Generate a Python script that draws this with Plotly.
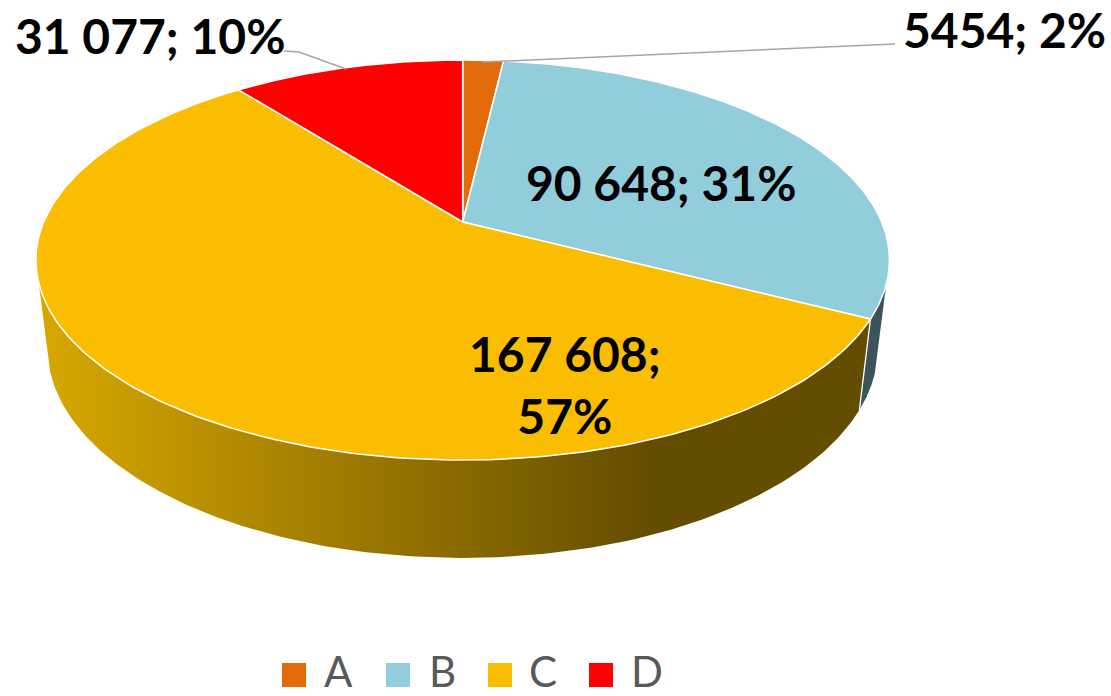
import numpy as np
import plotly.graph_objects as go

categories = ["A", "B", "C", "D"]
values = [5454, 90648, 167608, 31077]
colors = ["#E36C0A", "#92CDDC", "#FBBD00", "#FF0000"]
labels = ["5454; 2%", "90 648; 31%", "167 608;<br>57%", "31 077; 10%"]
label_pos = [(1004, 29), (661, 182), (565, 384), (150, 35)]
legend_marker_x = [294, 398, 500, 601]
legend_text_x = [338.5, 442, 543, 647]
LEGEND_MARKER_Y = 675
LEGEND_TEXT_Y = 670.5

# perspective view of the pie disc
CX, CY = 462.7, 222.0
K, P, M = 192.8, 0.19, 419.0
BOT_SX, BOT_SY, BOT_Y0 = 0.973, 1.05, 308.0
WALL_LEFT = 252.6
WALL_RIGHT = 107.9


def top_rim(deg):
    t = np.radians(deg)
    u, v = np.sin(t), np.cos(t)
    d = 1 + P * v
    return CX + M * u / d, CY - K * v / d


def bottom_rim(deg):
    x, y = top_rim(deg)
    return CX + BOT_SX * (x - CX), BOT_Y0 + BOT_SY * (y - CY)


total = sum(values)
edges = np.concatenate([[0], np.cumsum(values) / total * 360])
fig = go.Figure()


def wall(a, b, **kw):
    d = np.linspace(a, b, 160)
    xt, yt = top_rim(d)
    xb, yb = bottom_rim(d[::-1])
    fig.add_trace(go.Scatter(x=np.r_[xt, xb], y=np.r_[yt, yb], mode="lines", fill="toself",
                             line=dict(width=0), hoverinfo="skip", showlegend=False, **kw))


wall(WALL_RIGHT, edges[2], fillcolor="#3D535C")
wall(edges[2], WALL_LEFT, fillcolor="#B8860B",
     fillgradient=dict(type="horizontal",
                       colorscale=[[0, "#D8A800"], [0.73, "#654D00"], [1, "#654D00"]]))

# divider between the two visible walls
dx = [top_rim(edges[2])[0], bottom_rim(edges[2])[0]]
dy = [top_rim(edges[2])[1], bottom_rim(edges[2])[1]]
fig.add_trace(go.Scatter(x=dx, y=dy, mode="lines", line=dict(color="white", width=1.3),
                         hoverinfo="skip", showlegend=False))

for i, cat in enumerate(categories):
    d = np.linspace(edges[i], edges[i + 1], 200)
    x, y = top_rim(d)
    fig.add_trace(go.Scatter(x=np.r_[CX, x, CX], y=np.r_[CY, y, CY], mode="lines", fill="toself",
                             fillcolor=colors[i], line=dict(color="white", width=1.5),
                             name=cat, hoverinfo="name", showlegend=False))

for i, cat in enumerate(categories):
    fig.add_trace(go.Scatter(x=[legend_marker_x[i]], y=[LEGEND_MARKER_Y], mode="markers", name=cat,
                             marker=dict(symbol="square", size=24, color=colors[i]),
                             hoverinfo="name", showlegend=False))
    fig.add_annotation(x=legend_text_x[i], y=LEGEND_TEXT_Y, text=cat, showarrow=False, xref="x", yref="y",
                       font=dict(family="Lato", size=42, color="#595959"))

for text, (lx, ly) in zip(labels, label_pos):
    fig.add_annotation(x=lx, y=ly, text=f"<b>{text}</b>", showarrow=False, xref="x", yref="y",
                       font=dict(family="Lato", size=48, color="black"))

leader = dict(color="#A6A6A6", width=1.5)
fig.add_trace(go.Scatter(x=[284, 299, 346], y=[51, 52, 69], mode="lines", line=leader,
                         hoverinfo="skip", showlegend=False))
fig.add_trace(go.Scatter(x=[483, 895], y=[62, 44], mode="lines", line=leader,
                         hoverinfo="skip", showlegend=False))

fig.update_layout(
    width=1111, height=696, margin=dict(l=0, r=0, t=0, b=0),
    paper_bgcolor="white", plot_bgcolor="white",
    xaxis=dict(range=[0, 1111], visible=False, fixedrange=True),
    yaxis=dict(range=[696, 0], visible=False, fixedrange=True),
    font=dict(family="Lato"),
    showlegend=False,
)
fig.write_html("out.html", config={"displayModeBar": False},
               post_script="document.body.style.margin='0';")
